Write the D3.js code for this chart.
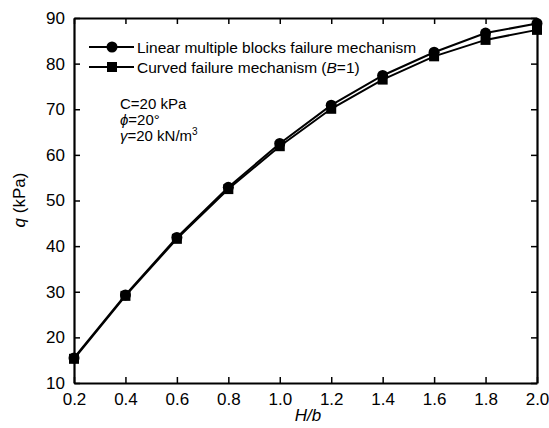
<!DOCTYPE html>
<html><head><meta charset="utf-8">
<script src="https://cdn.jsdelivr.net/npm/d3@7"></script>
<style>body{margin:0;background:#fff}svg{display:block}text{font-family:"Liberation Sans",Arial,sans-serif;fill:#000}</style>
</head><body>
<script>
const hb = [0.2,0.4,0.6,0.8,1.0,1.2,1.4,1.6,1.8,2.0];
const linearBlocks = [15.5,29.3,41.9,52.9,62.5,70.9,77.4,82.5,86.7,88.8];
const curvedMech = [15.3,29.1,41.6,52.5,61.9,70.1,76.5,81.6,85.2,87.4];
const xTicks = [0.2,0.4,0.6,0.8,1.0,1.2,1.4,1.6,1.8,2.0];
const yTicks = [10,20,30,40,50,60,70,80,90];

const W=549,H=428;
const m={l:74,r:12,t:18,b:45};
const svg=d3.select("body").append("svg").attr("width",W).attr("height",H);
const x=d3.scaleLinear().domain([0.2,2.0]).range([m.l,W-m.r]);
const y=d3.scaleLinear().domain([10,90]).range([H-m.b,m.t]);

const g=svg.append("g");
const ax=g.append("g").attr("transform",`translate(0,${H-m.b})`)
  .call(d3.axisBottom(x).tickValues(xTicks).tickFormat(d3.format(".1f")).tickSizeInner(-6).tickSizeOuter(0).tickPadding(10));
const ay=g.append("g").attr("transform",`translate(${m.l},0)`)
  .call(d3.axisLeft(y).tickValues(yTicks).tickSizeInner(-6).tickSizeOuter(0).tickPadding(9));
const at=g.append("g").attr("transform",`translate(0,${m.t})`)
  .call(d3.axisTop(x).tickValues(xTicks).tickFormat("").tickSizeInner(-6).tickSizeOuter(0));
const ar=g.append("g").attr("transform",`translate(${W-m.r},0)`)
  .call(d3.axisRight(y).tickValues(yTicks).tickFormat("").tickSizeInner(-6).tickSizeOuter(0));
[ax,ay,at,ar].forEach(a=>{
  a.select(".domain").attr("stroke","#000").attr("stroke-width",2.2);
  a.selectAll(".tick line").attr("stroke","#000").attr("stroke-width",1.5);
  a.selectAll("text").style("font-size","17px").attr("fill","#000").style("font-family","'Liberation Sans',Arial,sans-serif");
});

const line=d3.line().x((d,i)=>x(hb[i])).y(d=>y(d));
const series=[{v:linearBlocks,shape:"circle"},{v:curvedMech,shape:"square"}];
series.forEach(s=>{
  g.append("path").datum(s.v).attr("d",line).attr("fill","none").attr("stroke","#000").attr("stroke-width",2);
});
series.forEach(s=>{
  s.v.forEach((d,i)=>{
    if(s.shape==="circle") g.append("circle").attr("cx",x(hb[i])).attr("cy",y(d)).attr("r",5.5).attr("fill","#000");
    else g.append("rect").attr("x",x(hb[i])-5).attr("y",y(d)-5).attr("width",10).attr("height",10).attr("fill","#000");
  });
});

// legend
const lg=svg.append("g");
const rows=[{y:47,shape:"circle"},{y:67,shape:"square"}];
rows.forEach(r=>{
  lg.append("line").attr("x1",89).attr("x2",134).attr("y1",r.y).attr("y2",r.y).attr("stroke","#000").attr("stroke-width",2);
  if(r.shape==="circle") lg.append("circle").attr("cx",112).attr("cy",r.y).attr("r",5.5).attr("fill","#000");
  else lg.append("rect").attr("x",107).attr("y",r.y-5).attr("width",10).attr("height",10).attr("fill","#000");
});
lg.append("text").attr("x",137).attr("y",52.5).style("font-size","15.5px").text("Linear multiple blocks failure mechanism");
const t2=lg.append("text").attr("x",137).attr("y",72.5).style("font-size","15.5px");
t2.append("tspan").text("Curved failure mechanism (");
t2.append("tspan").style("font-style","italic").text("B");
t2.append("tspan").text("=1)");

// annotation
const an=svg.append("g").style("font-size","15px");
const a1=an.append("text").attr("x",120).attr("y",108.5);
a1.append("tspan").text("C");
a1.append("tspan").text("=20 kPa");
const a2=an.append("text").attr("x",120).attr("y",124.5);
a2.append("tspan").style("font-style","italic").text("ϕ");
a2.append("tspan").text("=20°");
const a3=an.append("text").attr("x",120).attr("y",140.5);
a3.append("tspan").style("font-style","italic").text("γ");
a3.append("tspan").text("=20 kN/m");
a3.append("tspan").attr("dy",-6).style("font-size","10px").text("3");

// axis labels
svg.append("text").attr("x",308).attr("y",421).attr("text-anchor","middle").style("font-size","17px").style("font-style","italic").text("H/b");
const yl=svg.append("text").attr("transform","translate(25,200) rotate(-90)").attr("text-anchor","middle").style("font-size","17px");
yl.append("tspan").style("font-style","italic").text("q");
yl.append("tspan").text(" (kPa)");
</script>
</body></html>
